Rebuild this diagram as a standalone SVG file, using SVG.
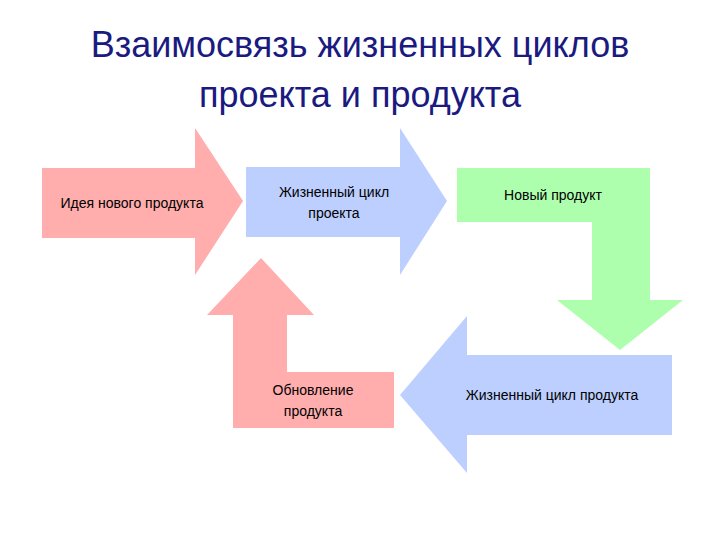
<svg xmlns="http://www.w3.org/2000/svg" width="720" height="540" viewBox="0 0 720 540">
<style>
text{font-family:"Liberation Sans",Arial,sans-serif;fill:#000;text-anchor:middle}
.t{font-size:36px;fill:#1a1a80}
.l{font-size:14px}
.pink{fill:#ffadad}.blue{fill:#bccfff}.green{fill:#adffad}
</style>
<rect width="720" height="540" fill="#fff"/>
<text class="t" x="360" y="57">Взаимосвязь жизненных циклов</text>
<text class="t" x="360" y="107">проекта и продукта</text>
<g id="idea"><polygon class="pink" points="42,168 195,168 195,128 243,201 195,275 195,238 42,238"/><text class="l" x="132" y="208">Идея нового продукта</text></g>
<g id="project"><polygon class="blue" points="246,167 400,167 400,128 447,201 400,275 400,237 246,237"/><text class="l" x="334" y="197">Жизненный цикл</text><text class="l" x="334" y="218">проекта</text></g>
<g id="newproduct"><polygon class="green" points="457,168 650,168 650,300 683,300 620,350 557,300 592,300 592,222 457,222"/><text class="l" x="553" y="200">Новый продукт</text></g>
<g id="lifecycle"><polygon class="blue" points="672,355 672,435 467,435 467,473 400,395 467,316 467,355"/><text class="l" x="552" y="400">Жизненный цикл продукта</text></g>
<g id="update"><polygon class="pink" points="233,428 394,428 394,372 287,372 287,315 314,315 261,258 207,315 233,315"/><text class="l" x="313" y="395">Обновление</text><text class="l" x="313" y="416">продукта</text></g>
<g id="connectors"/>
</svg>
